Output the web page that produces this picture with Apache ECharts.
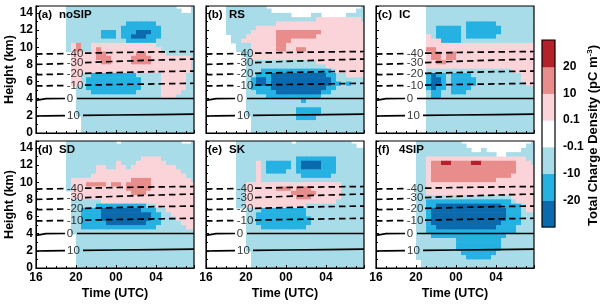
<!DOCTYPE html>
<html><head><meta charset="utf-8">
<script src="https://cdn.jsdelivr.net/npm/echarts@6/dist/echarts.min.js"></script>
<style>html,body{margin:0;padding:0;background:#fff}#c{width:600px;height:307px}</style>
</head><body><div id="c"></div>
<script>
// ---------- data ----------
const panelTags = ['(a)','(b)','(c)','(d)','(e)','(f)'];
const panelNames = ['noSIP','RS','IC','SD','SK','4SIP'];
// level classes, low -> high
const levelCodes = ['d','b','c','.','p','r','R'];
const levelColors = ['#0b6aad','#25b1e2','#a8dce8','#ffffff','#fbd4d9','#e88d8c','#b3222b'];
const colorbarTicks = ['-20','-10','-0.1','0.1','10','20'];
const xTickValues = [16,20,24,28];
const xTickLabels = ['16','20','00','04'];
// cell grid: columns start at 16 h, step 0.5 h; rows from 15 km down, step 0.5 km (run-length coded)
const panelA = ["6. 22c 3. 1c","6. 23c 2. 1c","6. 26c","6. 26c","6. 12c 6b 8c","6. 11c 8b 7c",
"6. 7c 3b 1c 3b 3d 2b 7c","6. 7c 3b 1c 2b 3d 3b 7c","6. 12c 6b 8c","6. 1c 1p 1r 2c 13p 8c",
"6. 1c 1p 1r 2c 1p 1r 12p 7c","7. 5p 2r 6p 2r 4p 6c","7. 5p 3r 4p 4r 8p 1c","7. 6p 2r 4p 4r 8p 1c",
"7. 24p 1c","7. 24p 1c","7. 2p 2c 9b 5c 5p 2c","7. 2p 1c 11b 4c 5p 2c","7. 2p 1c 11b 4c 5p 2c",
"8. 2c 11b 4c 5p 2c","8. 3c 9b 5c 4p 3c","8. 17c 3p 4c","8. 24c","8. 24c","8. 24c","8. 24c",
"9. 23c","9. 23c","9. 23c","9. 23c"];
const panelB = ["4. 8c 19. 1c","4. 9c 17. 2c","4. 13c 4. 2c 5. 4c","4. 18c 9p 1c","4. 10c 18p","4. 6c 22p",
"4. 5c 5p 9r 9p","5. 3c 6p 8r 10p","5. 2c 7p 3r 15p","6. 3c 5p 2r 16p","6. 3c 5p 2r 2p 2r 12p",
"7. 2c 23p","8. 1c 23p","8. 14c 10p","8. 16c 8p","8. 3c 14b 1c 6p","8. 2c 3b 11d 2b 2c 4p",
"8. 1c 1b 2d 1b 12d 1b 6c","8. 1c 1b 2d 1b 12d 2b 1c 1b 3c","8. 1c 4b 11d 2b 6c","8. 2c 4b 9d 2b 7c",
"8. 4c 11b 9c","8. 11c 1b 12c","8. 24c","8. 10c 5b 9c","8. 10c 5b 9c","9. 9c 4b 10c","9. 23c","9. 23c","9. 23c"];
const panelC = ["10. 22c","10. 22c","10. 22c","10. 22c","10. 8c 6b 8c","10. 2c 5b 1c 7b 7c","10. 2c 5b 1c 7b 7c",
"10. 1p 1c 5b 1c 6b 8c","10. 3p 4b 15c","10. 22p","10. 2r 20p","10. 1p 2r 1p 2r 16p","10. 1p 2r 1p 2r 16p",
"10. 2p 2r 18p","10. 22p","10. 17c 5p","10. 1b 1d 2b 1c 4b 10c 3p","10. 1b 2d 1b 1c 5b 9c 3p",
"10. 1b 2d 1b 1c 5b 10c 2p","10. 1b 1d 2b 1c 4b 13c","10. 1c 2b 2c 3b 14c","10. 1c 2b 19c",
"10. 22c","10. 22c","10. 22c","10. 22c","10. 22c","10. 22c","10. 22c","10. 22c"];
const panelD = ["6. 10c 1. 12c 2. 1c","6. 26c","6. 26c","6. 26c","6. 15c 4p 7c","6. 10c 1p 3c 6p 6c",
"6. 6c 2p 2c 2p 1c 9p 4c","6. 6c 17p 3c","6. 5c 19p 2c","6. 1c 12p 4r 8p 1c",
"6. 1c 3p 4r 1p 2r 1p 5r 9p","6. 1c 11p 5r 9p","7. 12p 3r 10p","7. 25p","7. 6c 19p",
"7. 5c 10b 2c 8p","7. 2c 4b 8d 3b 2c 6p","7. 2c 4b 10d 2b 2c 5p","7. 2c 4b 10d 2b 3c 4p",
"7. 2c 5b 8d 3b 4c 3p","7. 2c 15b 6c 2p","7. 25c","8. 24c","8. 24c","8. 24c","8. 24c",
"8. 24c","8. 24c","8. 24c","8. 24c"];
const panelE = ["6. 11c 1. 11c 3.","6. 24c 2.","6. 26c","6. 26c","6. 12c 8b 6c",
"6. 4c 1p 1c 5b 1c 1b 4d 3b 6c","6. 4c 1p 1c 5b 1c 1b 4d 3b 6c","6. 4c 1p 1c 4b 2c 8b 6c",
"6. 4c 1p 8c 6b 7c","6. 4c 1p 21c","6. 2c 19p 5c","6. 2c 6p 3r 1p 3r 6p 5c","6. 2c 9p 5r 5p 5c",
"6. 2c 10p 3r 6p 5c","6. 2c 18p 6c","6. 2c 12p 12c","8. 3c 9b 12c","8. 2c 10b 12c","8. 2c 11b 11c",
"8. 2c 11b 11c","8. 3c 9b 12c","8. 24c","8. 24c","8. 24c","8. 24c","8. 24c","9. 23c","9. 23c","9. 23c","9. 23c"];
const panelF = ["8. 9c 14. 1c","8. 10c 12. 2c","8. 11c 2. 1c 7. 3c","8. 16c 2. 6c","8. 2c 20p 2c",
"8. 2c 1p 2r 2R 4r 2R 7r 3p 1c","8. 2c 1p 17r 4p","8. 2c 1p 17r 4p","8. 2c 1p 16r 5p","8. 2c 1p 13r 8p",
"8. 2c 22p","8. 2c 22p","8. 2c 22p","8. 19c 5p","8. 2c 17b 1c 4p","8. 2c 2b 13d 4b 1c 2p",
"8. 2c 1b 15d 3b 1c 2p","8. 2c 1b 15d 3b 3c","8. 2c 1b 15d 3b 3c","8. 2c 1b 14d 4b 3c",
"8. 2c 2b 12d 4b 4c","8. 2c 18b 4c","8. 3c 15b 6c","8. 8c 9b 7c","8. 8c 9b 7c","8. 8c 9b 7c",
"8. 9c 7b 8c","8. 10c 5b 9c","9. 23c","9. 23c"];
// isotherms (deg C): heights (km) at isoTimesLeft, gap end, isoTimesRight
const isoLabels = ['-40','-30','-20','-10','0','10'];
const isoTimesLeft = [16, 17, 18.9];
const isoGapEnd = [20.9, 20.9, 20.9, 20.9, 20.1, 20.7];
const isoTimesRight = [24, 28, 31.8];
const isoLabelT = [19.9, 19.9, 19.9, 19.9, 19.4, 19.75];
const isoM40 = [9.2, 9.22, 9.25, 9.3, 9.38, 9.45, 9.5];
const isoM30 = [8.0, 8.02, 8.1, 8.2, 8.35, 8.5, 8.62];
const isoM20 = [6.8, 6.82, 6.88, 6.95, 7.05, 7.15, 7.22];
const isoM10 = [5.5, 5.5, 5.53, 5.58, 5.65, 5.72, 5.8];
const iso0   = [3.8, 4.0, 4.02, 4.02, 4.02, 4.02, 4.02];
const iso10  = [1.98, 2.0, 2.02, 2.05, 2.1, 2.15, 2.2];

// ---------- layout ----------
const FONT = '"Liberation Sans", Arial, Helvetica, sans-serif';
const gridLefts = [36, 206, 376];
const gridTops = [6, 141];
const gridW = 158, gridH = 127;
const X_MIN = 16, X_MAX = 31.8, Y_MIN = 0, Y_MAX = 14.8;

const panels = [panelA, panelB, panelC, panelD, panelE, panelF];
const isoSets = [isoM40, isoM30, isoM20, isoM10, iso0, iso10];

function decodeRow(s) {
  let out = '';
  s.trim().split(/\s+/).forEach(tok => {
    const m = tok.match(/^(\d+)(.)$/);
    out += m[2].repeat(parseInt(m[1], 10));
  });
  return out;
}
function cellsOf(rows) {
  const d = [];
  rows.forEach((s, r) => {
    const row = decodeRow(s);
    for (let c = 0; c < row.length; c++) {
      const k = levelCodes.indexOf(row[c]);
      if (k < 0 || k === 3) continue;
      d.push([16 + 0.5 * c, 14.5 - 0.5 * r, k]);
    }
  });
  return d;
}
function cellRender(params, api) {
  const t = api.value(0), h = api.value(1), k = api.value(2);
  const p0 = api.coord([t, h + 0.5]);
  const p1 = api.coord([t + 0.5, h]);
  const rect = echarts.graphic.clipRectByRect(
    { x: p0[0], y: p0[1], width: p1[0] - p0[0] + 0.6, height: p1[1] - p0[1] + 0.6 },
    { x: params.coordSys.x, y: params.coordSys.y, width: params.coordSys.width, height: params.coordSys.height });
  if (!rect) return;
  return { type: 'rect', shape: rect, style: { fill: levelColors[k] } };
}

const grids = [], xAxes = [], yAxes = [], series = [], graphics = [];
for (let i = 0; i < 6; i++) {
  const col = i % 3, row = Math.floor(i / 3);
  const left = gridLefts[col], top = gridTops[row];
  grids.push({ left: left, top: top, width: gridW, height: gridH, containLabel: false });
  xAxes.push({
    gridIndex: i, type: 'value', min: X_MIN, max: X_MAX, interval: 4, z: 10,
    axisLine: { show: true, lineStyle: { color: '#000', width: 1 } },
    axisTick: { show: true, inside: true, length: 3, lineStyle: { color: '#000', width: 1 } },
    minorTick: { show: true, splitNumber: 4, length: 2, lineStyle: { color: '#000', width: 1 } },
    splitLine: { show: false }, minorSplitLine: { show: false },
    axisLabel: {
      show: row === 1, showMaxLabel: false, margin: 4, color: '#000', fontWeight: 'bold', fontSize: 12, fontFamily: FONT,
      formatter: v => { const j = xTickValues.indexOf(v); return j >= 0 ? xTickLabels[j] : ''; }
    },
    name: row === 1 ? 'Time (UTC)' : '', nameLocation: 'middle', nameGap: 19,
    nameTextStyle: { color: '#000', fontWeight: 'bold', fontSize: 12.5, fontFamily: FONT }
  });
  yAxes.push({
    gridIndex: i, type: 'value', min: Y_MIN, max: Y_MAX, interval: 2, z: 10,
    axisLine: { show: true, lineStyle: { color: '#000', width: 1 } },
    axisTick: { show: true, inside: true, length: 3, lineStyle: { color: '#000', width: 1 } },
    minorTick: { show: true, splitNumber: 2, length: 2, lineStyle: { color: '#000', width: 1 } },
    splitLine: { show: false }, minorSplitLine: { show: false },
    axisLabel: {
      show: col === 0, showMaxLabel: false, margin: 3, color: '#000', fontWeight: 'bold', fontSize: 12, fontFamily: FONT,
      formatter: v => (Math.abs(v % 2) < 1e-6 && v <= 14 ? String(v) : '')
    },
    name: col === 0 ? 'Height (km)' : '', nameLocation: 'middle', nameGap: 19,
    nameTextStyle: { color: '#000', fontWeight: 'bold', fontSize: 12.5, fontFamily: FONT }
  });
  series.push({
    type: 'custom', xAxisIndex: i, yAxisIndex: i, renderItem: cellRender, data: cellsOf(panels[i]),
    silent: true, z: 1, animation: false
  });
  isoLabels.forEach((lab, j) => {
    const hs = isoSets[j];
    const times = isoTimesLeft.concat([isoGapEnd[j]], isoTimesRight);
    const data = [];
    times.forEach((t, q) => {
      if (q === isoTimesLeft.length) data.push([isoLabelT[j], '-']);
      data.push([t, hs[q]]);
    });
    const dashed = lab.charAt(0) === '-';
    series.push({
      type: 'line', xAxisIndex: i, yAxisIndex: i, data: data, symbol: 'none', silent: true, z: 3,
      connectNulls: false, animation: false,
      lineStyle: { color: '#000', width: 1.7, type: dashed ? [6.5, 4] : 'solid' }
    });
  });
  series.push({
    type: 'scatter', xAxisIndex: i, yAxisIndex: i, symbolSize: 1, silent: true, z: 4, animation: false,
    itemStyle: { color: 'rgba(0,0,0,0)' },
    data: isoLabels.map((lab, j) => [isoLabelT[j], (isoSets[j][2] + isoSets[j][3]) / 2, lab]),
    label: { show: true, position: 'inside', formatter: p => p.data[2], color: '#000', fontSize: 11.5, fontFamily: FONT }
  });
  graphics.push({ type: 'rect', z: 100, silent: true, shape: { x: left, y: top, width: gridW, height: gridH },
    style: { fill: 'none', stroke: '#000', lineWidth: 1.2 } });
  graphics.push({ type: 'text', z: 100, silent: true, x: left + 2, y: top + 9,
    style: { text: panelTags[i], fill: '#000', font: 'bold 11.5px ' + FONT, textVerticalAlign: 'middle', verticalAlign: 'middle' } });
  graphics.push({ type: 'text', z: 100, silent: true, x: left + 23, y: top + 9,
    style: { text: panelNames[i], fill: '#000', font: 'bold 11.5px ' + FONT, textVerticalAlign: 'middle', verticalAlign: 'middle' } });
}
// colorbar
const cbLeft = 542, cbTop = 40, cbW = 13, cbH = 187;
grids.push({ left: cbLeft, top: cbTop, width: cbW, height: cbH });
xAxes.push({ gridIndex: 6, type: 'value', min: 0, max: 1, show: false });
yAxes.push({ gridIndex: 6, type: 'value', min: 0, max: 7, interval: 1, position: 'right',
  axisLine: { show: false }, axisTick: { show: false }, splitLine: { show: false },
  axisLabel: { margin: 8, color: '#000', fontWeight: 'bold', fontSize: 12, fontFamily: FONT,
    formatter: v => colorbarTicks[v - 1] || '' } });
series.push({
  type: 'custom', xAxisIndex: 6, yAxisIndex: 6, silent: true, animation: false,
  data: levelColors.map((c, k) => [0, k]),
  renderItem: (params, api) => {
    const k = api.value(1);
    const p0 = api.coord([0, k + 1]), p1 = api.coord([1, k]);
    return { type: 'rect', shape: { x: p0[0], y: p0[1], width: p1[0] - p0[0], height: p1[1] - p0[1] + 0.5 },
      style: { fill: levelColors[k] } };
  }
});
graphics.push({ type: 'rect', z: 100, silent: true, shape: { x: cbLeft, y: cbTop, width: cbW, height: cbH },
  style: { fill: 'none', stroke: '#000', lineWidth: 1.2 } });
graphics.push({ type: 'text', z: 100, silent: true, x: 593, y: cbTop + cbH / 2 + 2, rotation: Math.PI / 2,
  style: { text: '{a|Total Charge Density (pC m}{s|-3}{a|)}', textAlign: 'center', align: 'center',
    textVerticalAlign: 'middle', verticalAlign: 'middle',
    rich: { a: { fontSize: 13, fontWeight: 'bold', fontFamily: FONT, fill: '#000', color: '#000' },
            s: { fontSize: 8, fontWeight: 'bold', fontFamily: FONT, fill: '#000', color: '#000', verticalAlign: 'top', padding: [0, 0, 6, 0] } } } });

const chart = echarts.init(document.getElementById('c'), null, { renderer: 'canvas' });
chart.setOption({
  animation: false, backgroundColor: '#fff',
  grid: grids, xAxis: xAxes, yAxis: yAxes, series: series, graphic: graphics
});
</script></body></html>
